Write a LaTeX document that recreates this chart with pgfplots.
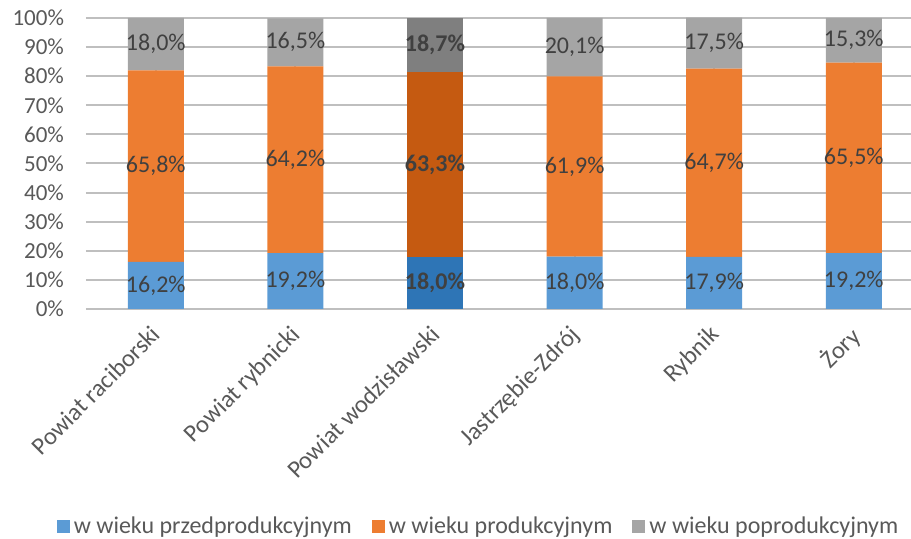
\documentclass[border=0pt]{standalone}
\usepackage{pgfplots}
\usepackage{pgfplotstable}
\pgfplotsset{compat=1.18}
\usepackage{fontspec}
\setmainfont{Carlito}
\definecolor{cblue}{HTML}{5B9BD5}
\definecolor{corange}{HTML}{ED7D31}
\definecolor{cgray}{HTML}{A5A5A5}
\definecolor{dblue}{HTML}{2E75B6}
\definecolor{dorange}{HTML}{C55A11}
\definecolor{dgray}{HTML}{7F7F7F}
\definecolor{lab}{HTML}{404040}
\definecolor{tick}{HTML}{595959}
\definecolor{grid}{HTML}{D9D9D9}
% shares of population by age group, in %
\pgfplotstableread{
x pre pro post
0 16.2 65.8 18.0
1 19.2 64.2 16.5
3 18.0 61.9 20.1
4 17.9 64.7 17.5
5 19.2 65.5 15.3
}\data
\pgfplotstableread{
x pre pro post
2 18.0 63.3 18.7
}\hl
\begin{document}
\begin{tikzpicture}
\useasboundingbox (-43pt,-115pt) rectangle (412.5pt,154.5pt);
\pgfplotsset{
  base/.style={
    scale only axis, width=412.5pt, height=145.5pt,
    xmin=-0.5, xmax=5.41, ymin=0, ymax=100, clip=false,
    ybar stacked, bar width=28pt,
    /pgf/number format/.cd, fixed, fixed zerofill, precision=1, use comma, assume math mode=true, /pgfplots/.cd,
    nodes near coords={\pgfmathprintnumber{\pgfplotspointmeta}\%},
    every node near coord/.append style={anchor=center,
      font=\fontsize{12}{14}\selectfont, text=lab},
  },
}
\begin{axis}[base,
  axis line style={draw=none},
  major tick length=0pt,
  ymajorgrids, grid style={grid, line width=1pt},
  ytick={0,10,...,100},
  yticklabels={0\%,10\%,20\%,30\%,40\%,50\%,60\%,70\%,80\%,90\%,100\%},
  yticklabel style={font=\fontsize{11.5}{13}\selectfont, text=tick, xshift=-7.5pt},
  xtick={0,...,5},
  xticklabels={Powiat raciborski, Powiat rybnicki, Powiat wodzisławski, Jastrzębie-Zdrój, Rybnik, Żory},
  xticklabel style={font=\fontsize{12.3}{14}\selectfont, text=tick, xshift=-3pt, yshift=-2.5pt, rotate=45, anchor=north east},
  legend style={at={(0.477,-0.749)}, anchor=center, legend columns=-1, draw=none, fill=none,
    font=\fontsize{12}{14}\selectfont, text=tick,
    /tikz/every even column/.append style={column sep=8pt}},
  legend image code/.code={\fill[#1] (0pt,-3.25pt) rectangle (6.5pt,3.25pt);},
]
\addplot[fill=cblue, draw=none] table[x=x, y=pre] {\data};
\addplot[fill=corange, draw=none] table[x=x, y=pro] {\data};
\addplot[fill=cgray, draw=none] table[x=x, y=post] {\data};
\legend{w wieku przedprodukcyjnym, w wieku produkcyjnym, w wieku poprodukcyjnym}
\end{axis}
% highlighted category
\begin{axis}[base, hide axis,
  every node near coord/.append style={font=\fontsize{12}{14}\selectfont\bfseries}]
\addplot[fill=dblue, draw=none] table[x=x, y=pre] {\hl};
\addplot[fill=dorange, draw=none] table[x=x, y=pro] {\hl};
\addplot[fill=dgray, draw=none] table[x=x, y=post] {\hl};
\end{axis}
\end{tikzpicture}
\end{document}
